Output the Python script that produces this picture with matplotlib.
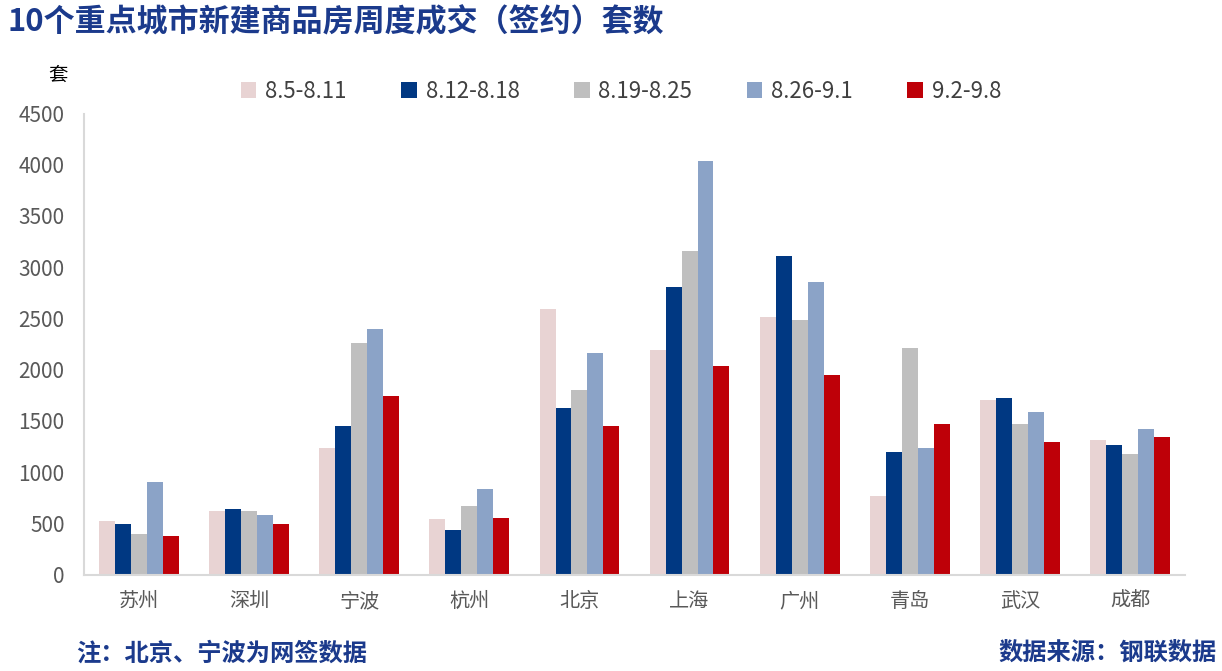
import matplotlib
matplotlib.use("Agg")
import matplotlib.pyplot as plt
import numpy as np
from matplotlib.patches import Patch

plt.rcParams['font.family'] = ['Noto Sans CJK SC', 'DejaVu Sans']

cities = ['苏州', '深圳', '宁波', '杭州', '北京', '上海', '广州', '青岛', '武汉', '成都']
series_names = ['8.5-8.11', '8.12-8.18', '8.19-8.25', '8.26-9.1', '9.2-9.8']
s1 = [523, 620, 1236, 542, 2594, 2193, 2516, 767, 1705, 1314]
s2 = [493, 640, 1451, 435, 1627, 2809, 3112, 1197, 1724, 1265]
s3 = [396, 620, 2262, 669, 1803, 3161, 2486, 2213, 1470, 1177]
s4 = [904, 581, 2398, 835, 2164, 4040, 2858, 1236, 1588, 1421]
s5 = [376, 493, 1744, 552, 1451, 2037, 1949, 1470, 1294, 1343]
yticks = [0, 500, 1000, 1500, 2000, 2500, 3000, 3500, 4000, 4500]
colors = ['#E8D3D3', '#003882', '#BFBFBF', '#8BA3C7', '#BE0008']

fig = plt.figure(figsize=(12.22, 6.71), dpi=100)
ax = fig.add_axes([84/1222, 1-574.5/671, (1185-84)/1222, (574.5-113.5)/671])

data = [s1, s2, s3, s4, s5]
x = np.arange(len(cities))
w = 0.145
for i, (vals, c, name) in enumerate(zip(data, colors, series_names)):
    ax.bar(x + (i - 2) * w, vals, width=w, color=c, label=name, linewidth=0)

ax.set_xlim(-0.5, len(cities) - 0.5)
ax.set_ylim(0, 4500)
ax.set_yticks(yticks)
ax.set_yticklabels([str(v) for v in yticks])
ax.set_xticks(x)
ax.set_xticklabels(cities)
ax.tick_params(axis='y', length=0, labelsize=15, labelcolor='#595959', pad=14)
ax.tick_params(axis='x', length=0, labelsize=14.5, labelcolor='#595959', pad=12)
for s in ['top', 'right']:
    ax.spines[s].set_visible(False)
ax.spines['left'].set_color('#D9D9D9')
ax.spines['left'].set_linewidth(1.5)
ax.spines['bottom'].set_color('#D9D9D9')
ax.spines['bottom'].set_linewidth(1.5)

handles = [Patch(facecolor=c, edgecolor='none') for c in colors]
fig.legend(handles, series_names, loc='center', bbox_to_anchor=(621/1222, 1-91/671),
           ncol=5, frameon=False, fontsize=16, handlelength=0.7, handleheight=0.7,
           handletextpad=0.4, columnspacing=2.45, labelcolor='#404040')

fig.text(8/1222, 1-22/671, '10个重点城市新建商品房周度成交（签约）套数', fontsize=22.3,
         fontweight='bold', color='#1B3A8C', va='center', ha='left')
fig.text(58/1222, 1-75/671, '套', fontsize=14, color='black', va='center', ha='center')
fig.text(76/1222, 1-654/671, '注：北京、宁波为网签数据', fontsize=17.5, fontweight='bold',
         color='#1B3A8C', va='center', ha='left')
fig.text(1217/1222, 1-654/671, '数据来源：钢联数据', fontsize=17.5, fontweight='bold',
         color='#1B3A8C', va='center', ha='right')

fig.savefig('out.png', dpi=100)
